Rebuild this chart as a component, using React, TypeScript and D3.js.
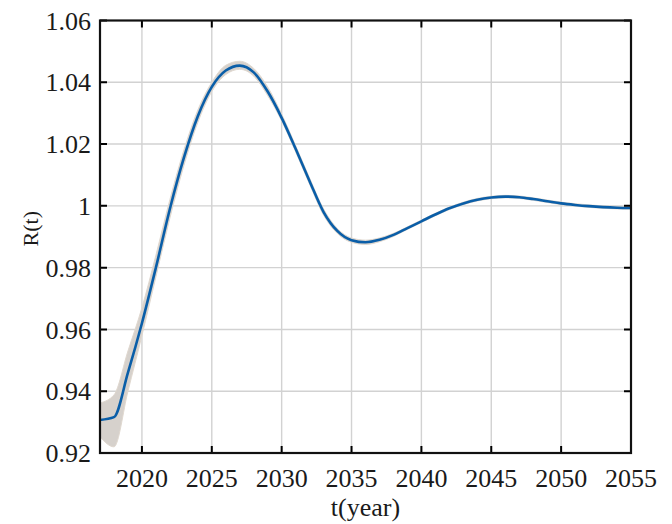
import React, { useEffect, useRef } from 'react';
import * as d3 from 'd3';

// yearly values
const years = d3.range(2017, 2056);
const rMean = [
  0.9307, 0.9316, 0.946, 0.962, 0.980, 0.999, 1.0155, 1.029, 1.0385, 1.0438,
  1.0454, 1.0432, 1.0370, 1.0285, 1.0185, 1.008, 0.998, 0.9918, 0.9889, 0.9882,
  0.9890, 0.9906, 0.9928, 0.9950, 0.9972, 0.9992, 1.0008, 1.0020, 1.0027, 1.0030,
  1.0028, 1.0022, 1.0015, 1.0008, 1.0003, 0.9999, 0.9996, 0.9994, 0.9993,
];
const rUpper = [
  0.9362, 0.9388, 0.953, 0.967, 0.984, 1.002, 1.018, 1.031, 1.040, 1.0455,
  1.0468, 1.0445, 1.0385, 1.0297, 1.0195, 1.009, 0.999, 0.9926, 0.9896, 0.9889,
  0.9896, 0.9911, 0.9932, 0.9954, 0.9976, 0.9996, 1.0012, 1.0024, 1.0031, 1.0034,
  1.0032, 1.0026, 1.0019, 1.0012, 1.0007, 1.0003, 1.0000, 0.9998, 0.9997,
];
const rLower = [
  0.9252, 0.922, 0.940, 0.958, 0.977, 0.996, 1.013, 1.027, 1.037, 1.0425,
  1.0442, 1.0420, 1.0357, 1.0275, 1.0175, 1.007, 0.997, 0.9910, 0.9882, 0.9875,
  0.9884, 0.9901, 0.9924, 0.9946, 0.9968, 0.9988, 1.0004, 1.0016, 1.0023, 1.0026,
  1.0024, 1.0018, 1.0011, 1.0004, 0.9999, 0.9995, 0.9992, 0.9990, 0.9989,
];
const xTicks = [2020, 2025, 2030, 2035, 2040, 2045, 2050, 2055];
const yTicks = [0.92, 0.94, 0.96, 0.98, 1, 1.02, 1.04, 1.06];

const App = () => {
  const ref = useRef<SVGSVGElement>(null);

  useEffect(() => {
    const svg = d3.select(ref.current);
    svg.selectAll('*').remove();

    const left = 100, right = 631, top = 20.5, bottom = 453;
    const x = d3.scaleLinear().domain([2017, 2055]).range([left, right]);
    const y = d3.scaleLinear().domain([0.92, 1.06]).range([bottom, top]);
    const font = 'Liberation Serif, DejaVu Serif, serif';

    svg.append('rect')
      .attr('x', left).attr('y', top)
      .attr('width', right - left).attr('height', bottom - top)
      .attr('fill', '#fff');

    // grid
    const grid = svg.append('g').attr('stroke', '#d2d2d2').attr('stroke-width', 1.4);
    grid.selectAll('.gx')
      .data(xTicks.filter(d => d < 2055))
      .join('line')
        .attr('x1', d => x(d)).attr('x2', d => x(d))
        .attr('y1', top).attr('y2', bottom);
    grid.selectAll('.gy')
      .data(yTicks.filter(d => d > 0.92 && d < 1.06))
      .join('line')
        .attr('class', 'gy')
        .attr('x1', left).attr('x2', right)
        .attr('y1', d => y(d)).attr('y2', d => y(d));

    // uncertainty band
    const band = d3.area<number>()
      .x((d, i) => x(years[i]))
      .y0((d, i) => y(rLower[i]))
      .y1((d, i) => y(rUpper[i]))
      .curve(d3.curveMonotoneX);
    svg.append('path')
      .datum(rMean)
      .attr('d', band)
      .attr('fill', '#d6d1cc')
      .attr('stroke', '#e0d8cf')
      .attr('stroke-width', 1);

    const line = d3.line<number>()
      .x((d, i) => x(years[i]))
      .y(d => y(d))
      .curve(d3.curveMonotoneX);
    svg.append('path')
      .datum(rMean)
      .attr('d', line)
      .attr('fill', 'none')
      .attr('stroke', '#0a5ea8')
      .attr('stroke-width', 2.6)
      .attr('stroke-linejoin', 'round');

    // ticks on all four sides, pointing in
    const tl = 7;
    const ticks = svg.append('g').attr('stroke', '#000').attr('stroke-width', 2);
    ticks.selectAll('.tb')
      .data(xTicks)
      .join('path')
        .attr('d', d => `M${x(d)},${bottom}V${bottom - tl}M${x(d)},${top}V${top + tl}`);
    ticks.selectAll('.tl')
      .data(yTicks)
      .join('path')
        .attr('class', 'tl')
        .attr('d', d => `M${left},${y(d)}H${left + tl}M${right},${y(d)}H${right - tl}`);

    svg.append('rect')
      .attr('x', left).attr('y', top)
      .attr('width', right - left).attr('height', bottom - top)
      .attr('fill', 'none')
      .attr('stroke', '#111')
      .attr('stroke-width', 2.2);

    // tick labels
    svg.append('g')
      .selectAll('text')
      .data(xTicks)
      .join('text')
        .attr('x', d => x(d))
        .attr('y', 487)
        .attr('text-anchor', 'middle')
        .attr('font-family', font)
        .attr('font-size', 26)
        .attr('fill', '#1a1a1a')
        .text(d => d);
    svg.append('g')
      .selectAll('text')
      .data(yTicks)
      .join('text')
        .attr('x', 91)
        .attr('y', d => y(d))
        .attr('dy', '0.35em')
        .attr('text-anchor', 'end')
        .attr('font-family', font)
        .attr('font-size', 26)
        .attr('fill', '#1a1a1a')
        .text(d => d3.format('~g')(d));

    svg.append('text')
      .attr('x', (left + right) / 2)
      .attr('y', 516)
      .attr('text-anchor', 'middle')
      .attr('font-family', font)
      .attr('font-size', 26)
      .attr('fill', '#1a1a1a')
      .text('t(year)');

    svg.append('text')
      .attr('transform', `translate(38,${(top + bottom) / 2 - 8}) rotate(-90)`)
      .attr('text-anchor', 'middle')
      .attr('font-family', font)
      .attr('font-size', 22)
      .attr('fill', '#1a1a1a')
      .text('R(t)');
  }, []);

  return (
    <svg ref={ref} width={672} height={524}
      style={{ position: 'absolute', left: 0, top: 0, background: '#fff' }} />
  );
};

export default App;
